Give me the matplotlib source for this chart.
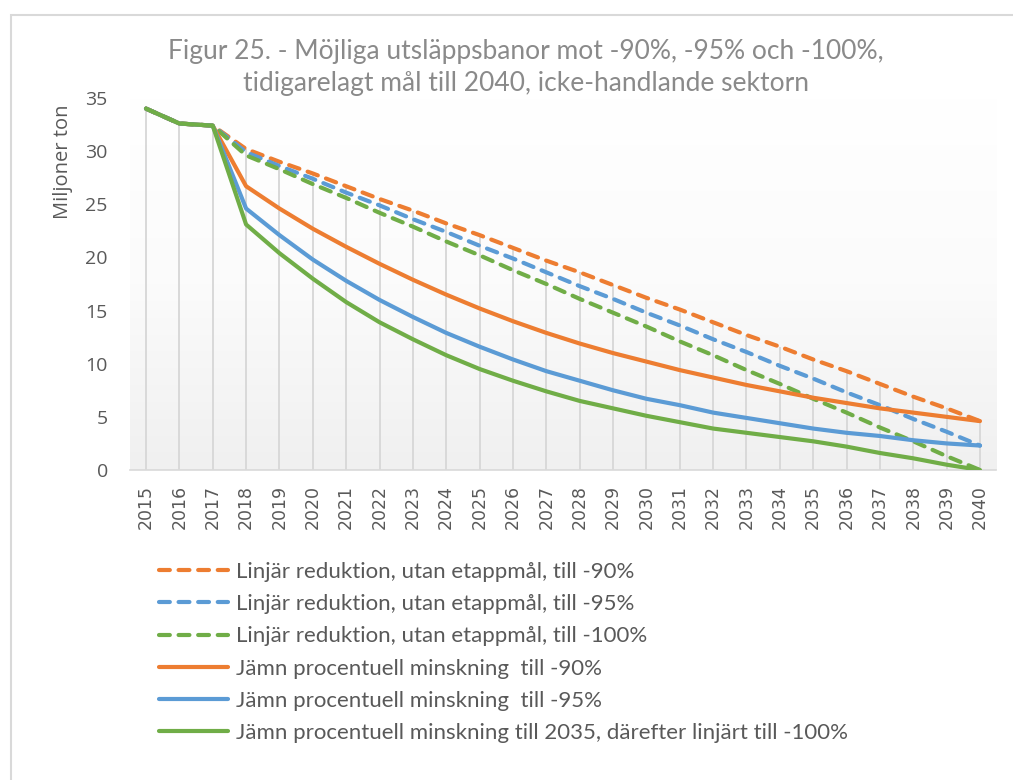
import matplotlib
matplotlib.use("Agg")
import matplotlib.pyplot as plt
import numpy as np
from matplotlib.patches import Rectangle
from matplotlib.colors import LinearSegmentedColormap

years = list(range(2015, 2041))
history = [34.0, 32.6, 32.4]

lin_90 = history + [30.2, 29.0, 27.9, 26.7, 25.5, 24.4, 23.2, 22.1, 20.9, 19.7, 18.6,
                    17.4, 16.2, 15.1, 13.9, 12.7, 11.6, 10.4, 9.3, 8.1, 6.9, 5.8, 4.6]
lin_95 = history + [29.9, 28.6, 27.4, 26.1, 24.9, 23.6, 22.4, 21.1, 19.9, 18.6, 17.3,
                    16.1, 14.8, 13.6, 12.3, 11.1, 9.8, 8.6, 7.3, 6.1, 4.8, 3.6, 2.3]
lin_100 = history + [29.6, 28.3, 26.9, 25.6, 24.2, 22.9, 21.5, 20.2, 18.8, 17.5, 16.1,
                     14.8, 13.5, 12.1, 10.8, 9.4, 8.1, 6.7, 5.4, 4.0, 2.7, 1.3, 0.0]
pct_90 = history + [26.7, 24.6, 22.7, 21.0, 19.4, 17.9, 16.5, 15.2, 14.0, 12.9, 11.9,
                    11.0, 10.2, 9.4, 8.7, 8.0, 7.4, 6.8, 6.3, 5.8, 5.4, 5.0, 4.6]
pct_95 = history + [24.6, 22.1, 19.8, 17.8, 16.0, 14.4, 12.9, 11.6, 10.4, 9.3, 8.4,
                    7.5, 6.7, 6.1, 5.4, 4.9, 4.4, 3.9, 3.5, 3.2, 2.8, 2.5, 2.3]
pct_100 = history + [23.1, 20.4, 18.0, 15.8, 13.9, 12.3, 10.8, 9.5, 8.4, 7.4, 6.5,
                     5.8, 5.1, 4.5, 3.9, 3.5, 3.1, 2.7, 2.2, 1.6, 1.1, 0.5, 0.0]

labels = [
    "Linjär reduktion, utan etappmål, till -90%",
    "Linjär reduktion, utan etappmål, till -95%",
    "Linjär reduktion, utan etappmål, till -100%",
    "Jämn procentuell minskning  till -90%",
    "Jämn procentuell minskning  till -95%",
    "Jämn procentuell minskning till 2035, därefter linjärt till -100%",
]
title = "Figur 25. - Möjliga utsläppsbanor mot -90%, -95% och -100%,\ntidigarelagt mål till 2040, icke-handlande sektorn"
ylabel = "Miljoner ton"
yticks = [0, 5, 10, 15, 20, 25, 30, 35]

ORANGE = "#ED7D31"
BLUE = "#5B9BD5"
GREEN = "#70AD47"
TXT = "#595959"
GRID = "#d9d9d9"

W, H = 1013, 780
fig = plt.figure(figsize=(W / 100, H / 100), dpi=100)
fig.patch.set_facecolor("white")

def fx(px):
    return px / W

def fy(py):
    return 1 - py / H

left, right, bottom, top = 130, 996, 470, 98
ax = fig.add_axes([fx(left), fy(bottom), fx(right) - fx(left), fy(top) - fy(bottom)])
ax.set_facecolor("none")

# gradient background
grad = np.linspace(0, 1, 256).reshape(-1, 1)
cmap = LinearSegmentedColormap.from_list("g", ["#ffffff", "#fbfbfb", "#f0f0f0"])
ax.imshow(grad, extent=[0, 1, 0, 1], transform=ax.transAxes, cmap=cmap,
          aspect="auto", origin="upper", zorder=0, interpolation="bilinear")

series = [lin_90, lin_95, lin_100, pct_90, pct_95, pct_100]
maxvals = np.max(np.array(series), axis=0)
ax.vlines(years, 0, maxvals, colors=GRID, linewidth=1.4, zorder=1)

styles = [(ORANGE, True), (BLUE, True), (GREEN, True),
          (ORANGE, False), (BLUE, False), (GREEN, False)]
handles = []
for vals, (c, dashed), lab in zip(series, styles, labels):
    if dashed:
        ln, = ax.plot(years, vals, color=c, lw=3.0, linestyle=(0, (2.6, 2.1)),
                      dash_capstyle="round", solid_capstyle="round", label=lab, zorder=3)
    else:
        ln, = ax.plot(years, vals, color=c, lw=3.0, solid_capstyle="round",
                      solid_joinstyle="round", label=lab, zorder=3)
    handles.append(ln)

ax.set_xlim(2014.52, 2040.48)
ax.set_ylim(0, 35)
ax.set_yticks(yticks)
ax.set_yticklabels([str(v) for v in yticks], fontfamily="Open Sans", fontsize=14, color=TXT)
ax.set_xticks(years)
ax.set_xticklabels([str(y) for y in years], rotation=90, fontfamily="DejaVu Sans",
                   fontsize=12.5, color=TXT)
ax.tick_params(axis="y", length=0, pad=16)
ax.tick_params(axis="x", length=0, pad=11)
for s in ["top", "right", "left"]:
    ax.spines[s].set_visible(False)
ax.spines["bottom"].set_color(GRID)
ax.spines["bottom"].set_linewidth(1.2)
ax.spines["bottom"].set_zorder(2)

fig.text(fx(526), fy(67), title, ha="center", va="center", fontsize=19,
         fontfamily="Lato", fontweight="normal", color="#8a8a8a", linespacing=1.35)
fig.text(fx(63), fy(162), ylabel, rotation=90, ha="center", va="center",
         fontsize=14.5, fontfamily="Open Sans", color=TXT)

leg = fig.legend(handles=handles, loc="upper left",
                 bbox_to_anchor=(fx(159), fy(562)), frameon=False,
                 prop={"family": "Lato", "size": 16}, labelcolor=TXT,
                 handlelength=3.1, handletextpad=0.38, labelspacing=0.55,
                 borderaxespad=0, borderpad=0)

# chart border
fig.patches.append(Rectangle((fx(10.5), fy(790)), fx(1020), fy(14.5) - fy(790),
                             transform=fig.transFigure, fill=False,
                             edgecolor=GRID, linewidth=1.5, zorder=0))

fig.savefig("out.png", dpi=100)
